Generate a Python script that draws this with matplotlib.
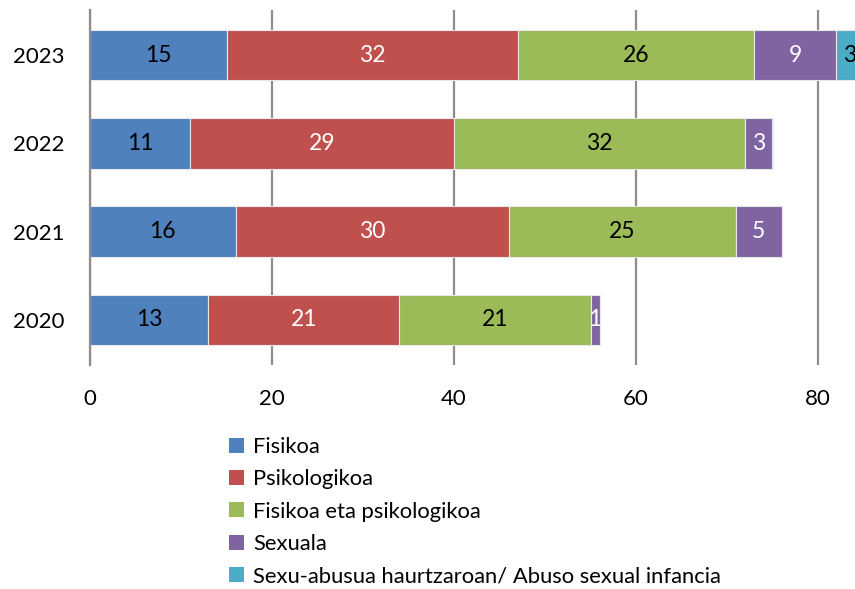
import matplotlib.pyplot as plt
import numpy as np

plt.rcParams['font.family'] = ['Lato', 'DejaVu Sans']

# datos
years = ['2020', '2021', '2022', '2023']
categories = ['Fisikoa', 'Psikologikoa', 'Fisikoa eta psikologikoa', 'Sexuala',
              'Sexu-abusua haurtzaroan/ Abuso sexual infancia']
fisikoa = [13, 16, 11, 15]
psikologikoa = [21, 30, 29, 32]
fisiko_psiko = [21, 25, 32, 26]
sexuala = [1, 5, 3, 9]
sexu_abusua = [0, 0, 0, 3]

series = [fisikoa, psikologikoa, fisiko_psiko, sexuala, sexu_abusua]
colors = ['#4F81BD', '#C0504D', '#9BBB59', '#8064A2', '#4BACC6']
text_colors = ['black', 'white', 'black', 'white', 'black']

fig = plt.figure(figsize=(8.55, 5.89), dpi=100)
ax = fig.add_axes([90 / 855, (589 - 365) / 589, 765 / 855, 355 / 589])

y = np.arange(len(years))
left = np.zeros(len(years))
for vals, col, tcol, name in zip(series, colors, text_colors, categories):
    vals = np.array(vals, dtype=float)
    ax.barh(y, vals, left=left, height=0.57, color=col,
            edgecolor='#E8E8E8', linewidth=0.8, label=name, zorder=2)
    for yi, v, l in zip(y, vals, left):
        if v > 0:
            ax.text(l + v / 2, yi, f'{int(v)}', ha='center', va='center',
                    color=tcol, fontsize=16.5, zorder=3)
    left += vals

ax.set_xlim(0, 765 / 9.1)
ax.set_ylim(-0.51, 3.51)
ax.set_xticks([0, 20, 40, 60, 80])
ax.set_yticks(y)
ax.set_yticklabels(years)
ax.tick_params(axis='both', length=0, labelsize=16)
ax.tick_params(axis='y', pad=18)
ax.tick_params(axis='x', pad=17)
ax.grid(axis='x', color='#8C8C8C', linewidth=1.6)
ax.set_axisbelow(True)
for s in ['top', 'right', 'bottom']:
    ax.spines[s].set_visible(False)
ax.spines['left'].set_color('#8C8C8C')
ax.spines['left'].set_linewidth(1.6)

handles, labels = ax.get_legend_handles_labels()
leg = fig.legend(handles, labels, loc='upper left', bbox_to_anchor=(229 / 855, 1 - 437 / 589),
                 frameon=False, fontsize=15.8, handlelength=0.68, handleheight=0.68,
                 handletextpad=0.42, labelspacing=0.56, borderaxespad=0, borderpad=0)
for h in leg.legend_handles:
    h.set_edgecolor('none')

plt.savefig('out.png', dpi=100)
